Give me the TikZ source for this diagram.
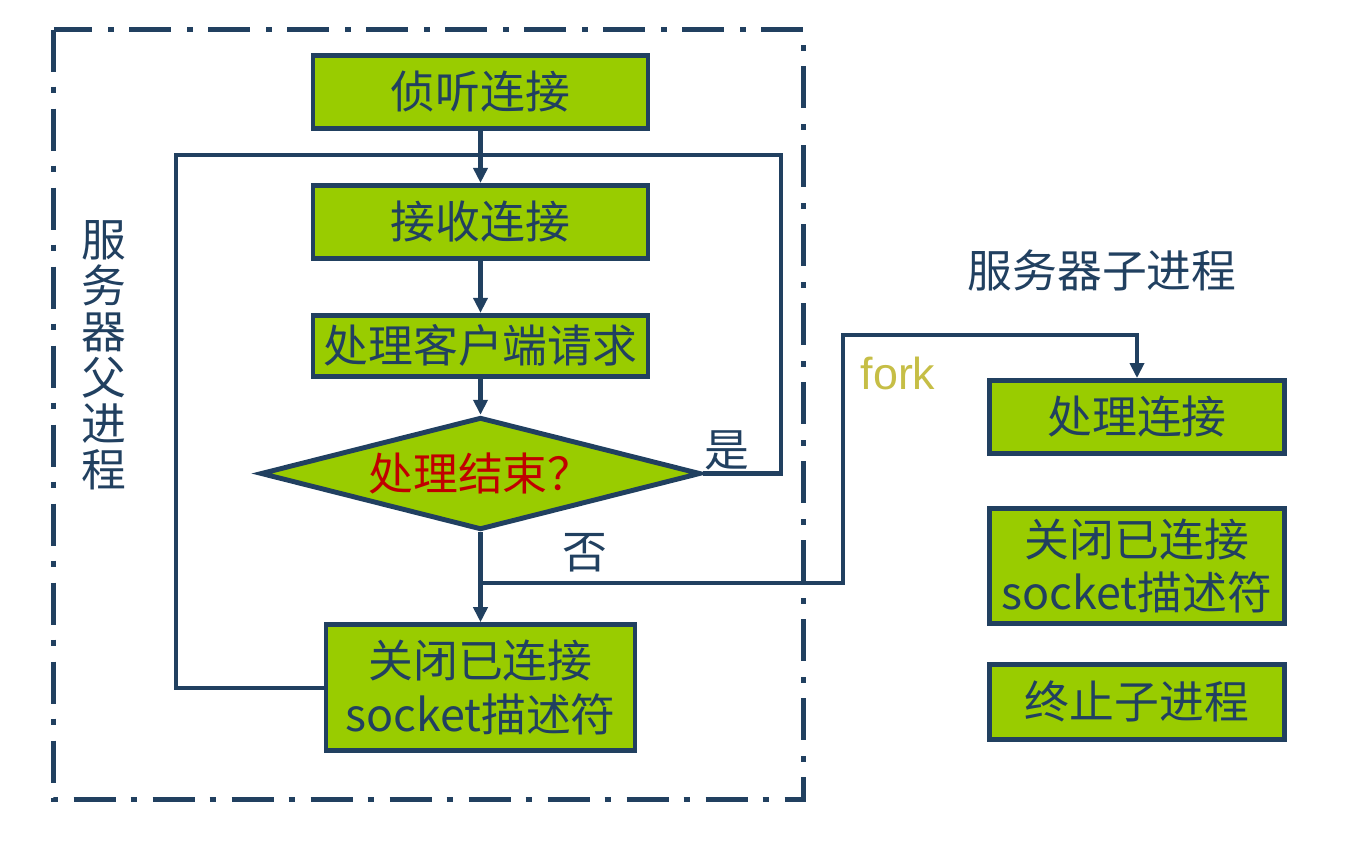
\documentclass[tikz,border=0pt]{standalone}
\usepackage{fontspec}
\newfontfamily\cjk{Noto Sans CJK SC}
\newfontfamily\latin{Liberation Sans}
\usetikzlibrary{positioning, arrows.meta, shapes.geometric, calc}
\definecolor{navy}{RGB}{33,64,96}
\definecolor{leaf}{RGB}{153,204,0}
\definecolor{darkred}{RGB}{192,0,0}
\definecolor{forkcol}{RGB}{198,190,70}

\begin{document}
\begin{tikzpicture}[>={Triangle[length=0.3cm,width=0.28cm]}, line width=2.3pt, navy,
    font=\cjk\fontsize{25.5}{30.5}\selectfont,
    box/.style={draw=navy, fill=leaf, line width=2.8pt, text=navy, inner sep=0pt,
      minimum width=6.7cm, minimum height=1.46cm, align=center},
    sidebox/.style={box, minimum width=5.9cm},
    decision/.style={diamond, draw=navy, fill=leaf, line width=2.8pt, aspect=3.8,
      inner sep=0pt, minimum width=8.8cm, minimum height=2.25cm, text=darkred}]
  \useasboundingbox (0,0) rectangle (26.92,-16.88);

  % parent process frame
  \draw[line width=2.8pt, dash pattern=on 0.84cm off 0.3cm on 0.12cm off 0.32cm]
    (1.07,-0.59) rectangle (16.07,-15.99);
  \node[align=center, font=\cjk\fontsize{25.5}{26.2}\selectfont] (parent) at (2.08,-7.1)
    {服\\务\\器\\父\\进\\程};

  % main loop
  \node[box] (listen) at (9.61,-1.84) {侦听连接};
  \node[box, below=1.04cm of listen] (accept) {接收连接};
  \node[box, minimum height=1.22cm, below=1.04cm of accept] (handle) {处理客户端请求};
  \node[decision, below=0.72cm of handle] (check) {处理结束？};
  \node[box, minimum width=6.18cm, minimum height=2.52cm, below=1.8cm of check] (close)
    {关闭已连接\\socket描述符};
  \node (yes) at (14.54,-9.0) {是};
  \node (no) at (11.7,-11.06) {否};

  \coordinate (loopL) at (3.52,-3.1);
  \coordinate (loopR) at (15.62,-3.1);
  \draw[->] (listen) -- (accept);
  \draw[->] (accept) -- (handle);
  \draw[->] (handle) -- (check);
  \draw[->] (check) -- (close);
  \draw (close.west) -| (loopL) -- (loopR) |- (check.east);

  % child process
  \node (childtitle) at (22.04,-5.4) {服务器子进程};
  \node[sidebox] (child1) at (22.74,-8.34) {处理连接};
  \node[sidebox, minimum height=2.3cm, below=1.0cm of child1] (child2) {关闭已连接\\socket描述符};
  \node[sidebox, minimum height=1.5cm, below=0.72cm of child2] (child3) {终止子进程};

  \coordinate (forkA) at (check.south |- 0,-11.66);
  \coordinate (forkB) at (16.86,-6.7);
  \draw[->] (forkA) -| (forkB) -| (child1.north);
  \node[text=forkcol, font=\latin\fontsize{25.5}{30}\selectfont] (fork) at (17.96,-7.46) {fork};
\end{tikzpicture}
\end{document}
